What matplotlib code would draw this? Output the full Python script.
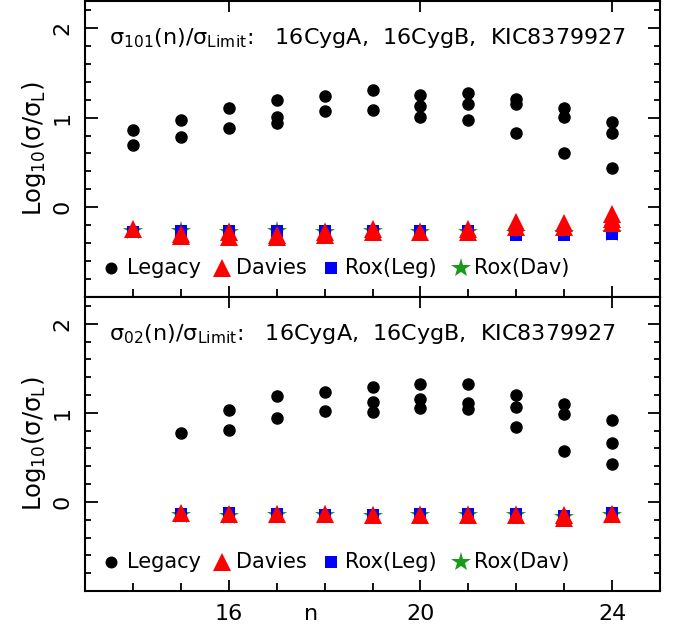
import matplotlib
matplotlib.use("Agg")
import matplotlib.pyplot as plt
from matplotlib.ticker import MultipleLocator, FixedLocator

# ---------------- data ----------------
# Top panel: sigma_101
top_leg_n = [14, 14, 15, 15, 16, 16, 17, 17, 17, 18, 18, 19, 19, 20, 20, 20,
             21, 21, 21, 22, 22, 22, 23, 23, 23, 24, 24, 24]
top_leg_v = [0.86, 0.70, 0.97, 0.78, 1.11, 0.88, 1.20, 1.01, 0.94, 1.24, 1.07,
             1.31, 1.08, 1.25, 1.13, 1.01, 1.27, 1.15, 0.97, 1.21, 1.15, 0.83,
             1.11, 1.01, 0.60, 0.95, 0.83, 0.44]
top_dav_n = [14, 15, 15, 16, 16, 17, 17, 18, 18, 19, 19, 20, 21, 21, 22, 22,
             23, 23, 24, 24, 24]
top_dav_v = [-0.24, -0.32, -0.30, -0.28, -0.33, -0.33, -0.31, -0.28, -0.31,
             -0.24, -0.28, -0.28, -0.24, -0.28, -0.16, -0.22, -0.17, -0.22,
             -0.07, -0.13, -0.18]
top_rxl_n = [14, 15, 16, 17, 18, 19, 20, 21, 22, 23, 24]
top_rxl_v = [-0.28, -0.26, -0.26, -0.26, -0.26, -0.26, -0.26, -0.26, -0.31,
             -0.31, -0.30]
top_rxd_n = [14, 15, 16, 17, 18, 19, 20, 21, 22, 23, 24]
top_rxd_v = [-0.26, -0.26, -0.27, -0.26, -0.27, -0.26, -0.27, -0.27, -0.29,
             -0.29, -0.29]

# Bottom panel: sigma_02
bot_leg_n = [15, 16, 16, 17, 17, 18, 18, 19, 19, 19, 20, 20, 20, 21, 21, 21,
             22, 22, 22, 23, 23, 23, 24, 24, 24]
bot_leg_v = [0.77, 1.03, 0.81, 1.19, 0.94, 1.23, 1.02, 1.29, 1.12, 1.01, 1.32,
             1.15, 1.05, 1.32, 1.11, 1.04, 1.20, 1.07, 0.84, 1.10, 0.99, 0.57,
             0.92, 0.66, 0.42]
bot_dav_n = [15, 16, 17, 18, 19, 20, 21, 22, 23, 23, 24]
bot_dav_v = [-0.13, -0.14, -0.14, -0.14, -0.15, -0.15, -0.15, -0.15, -0.15,
             -0.18, -0.14]
bot_rxl_n = [15, 16, 17, 18, 19, 20, 21, 22, 23, 24]
bot_rxl_v = [-0.14, -0.13, -0.14, -0.15, -0.15, -0.14, -0.14, -0.14, -0.16,
             -0.12]
bot_rxd_n = [15, 16, 17, 18, 19, 20, 21, 22, 23, 24]
bot_rxd_v = [-0.15, -0.16, -0.15, -0.15, -0.16, -0.15, -0.15, -0.15, -0.17,
             -0.15]

titles = [r'$\sigma_{101}$(n)/$\sigma_{\rm Limit}$:   16CygA,  16CygB,  KIC8379927',
          r'$\sigma_{02}$(n)/$\sigma_{\rm Limit}$:   16CygA,  16CygB,  KIC8379927']
legend_labels = ['Legacy', 'Davies', 'Rox(Leg)', 'Rox(Dav)']
x_ticks = [16, 20, 24]
y_ticks = [0, 1, 2]

# ---------------- figure ----------------
plt.rcParams['font.family'] = ['DejaVu Sans']
plt.rcParams['mathtext.fontset'] = 'dejavusans'
plt.rcParams['mathtext.default'] = 'regular'

fig = plt.figure(figsize=(6.88, 6.30), dpi=100)
W, H = 688.0, 630.0
left, right = 85 / W, 660 / W
ax_top = fig.add_axes([left, (H - 297) / H, right - left, 296 / H])
ax_bot = fig.add_axes([left, (H - 591) / H, right - left, 294 / H])

ms_circ, ms_tri, ms_sq, ms_star = 8.0, 13.5, 8.5, 15.0
txt_fs = 15

panels = [
    (ax_top, top_leg_n, top_leg_v, top_dav_n, top_dav_v, top_rxl_n, top_rxl_v,
     top_rxd_n, top_rxd_v, titles[0]),
    (ax_bot, bot_leg_n, bot_leg_v, bot_dav_n, bot_dav_v, bot_rxl_n, bot_rxl_v,
     bot_rxd_n, bot_rxd_v, titles[1]),
]

for i, (ax, ln, lv, dn, dv, rln, rlv, rdn, rdv, ttl) in enumerate(panels):
    ax.plot(ln, lv, 'o', color='black', ms=ms_circ, ls='none', zorder=3)
    ax.plot(rdn, rdv, '*', color='#1a9a1a', ms=ms_star, mew=0, ls='none', zorder=4)
    ax.plot(rln, rlv, 's', color='#0000ff', ms=ms_sq, mew=0, ls='none', zorder=5)
    ax.plot(dn, dv, '^', color='#ff0000', ms=ms_tri, mew=0, ls='none', zorder=6)

    ax.set_xlim(13, 25)
    ax.set_ylim(-1, 2.3)

    ax.xaxis.set_major_locator(FixedLocator(x_ticks))
    ax.xaxis.set_minor_locator(MultipleLocator(1))
    ax.yaxis.set_major_locator(FixedLocator(y_ticks))
    ax.yaxis.set_minor_locator(MultipleLocator(0.2))

    ax.tick_params(axis='both', which='both', direction='in', width=1.3,
                   top=True, right=True, colors='black')
    ax.tick_params(axis='y', which='major', length=9)
    ax.tick_params(axis='y', which='minor', length=4.5)
    ax.tick_params(axis='x', which='major', length=8)
    ax.tick_params(axis='x', which='minor', length=6, top=False)
    ax.tick_params(axis='y', which='major', labelsize=16, pad=9)
    for lab in ax.get_yticklabels():
        lab.set_rotation(90)
        lab.set_va('center')
    ax.tick_params(axis='x', which='major', labelsize=16, pad=9)
    for sp in ax.spines.values():
        sp.set_linewidth(1.5)

    ax.set_ylabel(r'Log$_{10}$($\sigma$/$\sigma_{\rm L}$)', fontsize=17.5,
                  labelpad=3)

    ax.text(13.5, 1.89, ttl, fontsize=16, ha='left', va='center')

    # manual legend row
    ly = -0.68
    ax.plot([13.55], [ly], 'o', color='black', ms=ms_circ * 0.95, zorder=6)
    ax.text(13.88, ly, legend_labels[0], fontsize=txt_fs, va='center', ha='left')
    ax.plot([15.85], [ly], '^', color='#ff0000', ms=ms_tri, mew=0, zorder=6)
    ax.text(16.15, ly, legend_labels[1], fontsize=txt_fs, va='center', ha='left')
    ax.plot([18.13], [ly], 's', color='#0000ff', ms=ms_sq, mew=0, zorder=6)
    ax.text(18.42, ly, legend_labels[2], fontsize=txt_fs, va='center', ha='left')
    ax.plot([20.85], [ly], '*', color='#1a9a1a', ms=ms_star, mew=0, zorder=6)
    ax.text(21.12, ly, legend_labels[3], fontsize=txt_fs, va='center', ha='left')

ax_top.tick_params(axis='x', labelbottom=False)
ax_bot.text(17.72, -0.098, 'n', transform=ax_bot.get_xaxis_transform(),
            fontsize=16, ha='center', va='baseline')

fig.savefig('out.png', dpi=100)
